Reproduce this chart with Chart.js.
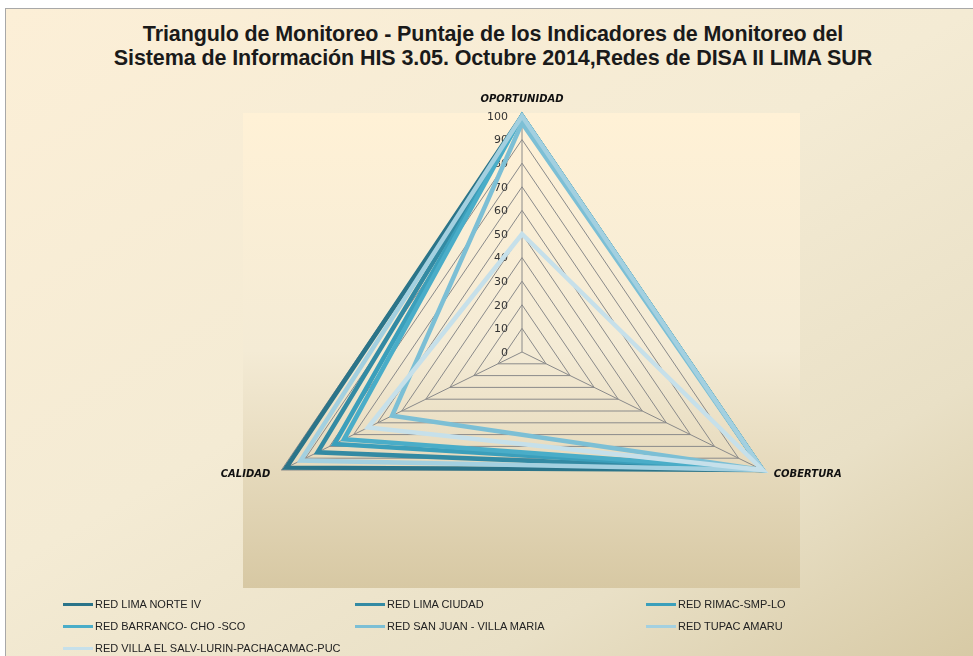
<!DOCTYPE html>
<html>
<head>
<meta charset="utf-8">
<script src="https://cdn.jsdelivr.net/npm/chart.js@4.4.1/dist/chart.umd.min.js"></script>
<style>
  html, body { margin: 0; padding: 0; background: #fff; width: 973px; height: 656px; overflow: hidden; }
  #marco {
    position: absolute; left: 5px; top: 8px; width: 990px; height: 670px;
    border-left: 1px solid #a8a8a8; border-top: 1px solid #a8a8a8;
    background: linear-gradient(150deg, #fcefd7 0%, #f4ebd4 45%, #e9e0c6 75%, #d5c7a1 100%);
  }
  #titulo {
    position: absolute; left: 5px; top: 22px; width: 976px; text-align: center;
    font-family: "Liberation Sans", Arial, sans-serif; font-weight: bold; font-size: 21.5px;
    line-height: 24px; color: #1a1a1a; letter-spacing: -0.1px;
  }
  #grafico { position: absolute; left: 0; top: 0; }
  #leyenda {
    position: absolute; left: 63px; top: 597px; width: 880px;
    display: grid; grid-template-columns: 292px 291px 290px; row-gap: 8px;
    font-family: "Liberation Sans", Arial, sans-serif; font-size: 11px; color: #222;
  }
  #leyenda div { display: flex; align-items: center; height: 14px; white-space: nowrap; }
  #leyenda span.linea { display: inline-block; width: 30px; height: 3px; margin-right: 2px; }
</style>
</head>
<body>
<div id="marco"></div>
<div id="titulo">Triangulo de Monitoreo - Puntaje de los Indicadores de Monitoreo del<br>Sistema de Información HIS 3.05. Octubre 2014,Redes de DISA II LIMA SUR</div>
<canvas id="grafico" width="973" height="656" style="width:973px;height:656px"></canvas>
<div id="leyenda"></div>
<script>
// ejes del triangulo
const indicadores = ['OPORTUNIDAD', 'COBERTURA', 'CALIDAD'];

// redes de salud
const redes = [
  'RED LIMA NORTE IV',
  'RED LIMA CIUDAD',
  'RED RIMAC-SMP-LO',
  'RED BARRANCO- CHO -SCO',
  'RED SAN JUAN  - VILLA MARIA',
  'RED TUPAC AMARU',
  'RED VILLA EL SALV-LURIN-PACHACAMAC-PUC'
];

// puntaje por indicador (una posicion por red)
const oportunidad = [100, 100, 100, 100, 97, 100, 50];
const cobertura   = [100, 100, 100, 100, 100, 100, 100];
const calidad     = [98, 85, 78, 74, 54, 92, 64];

const colores = ['#2b7489', '#338aa3', '#3b9fbb', '#4aadc8', '#7cbfd5', '#a3d0e0', '#c6e0ea'];

// el grafico original esta estirado en horizontal
const estiramiento = 1.177;

class EscalaTriangulo extends Chart.RadialLinearScale {
  static id = 'triangulo';

  getPointPosition(index, distance, angle) {
    const p = super.getPointPosition(index, distance, angle);
    return { x: this.xCenter + (p.x - this.xCenter) * estiramiento, y: p.y, angle: p.angle };
  }

  // el centro y el radio salen del area del grafico
  setCenterPoint() {}

  fit() {
    super.fit();
    (this._pointLabelItems || []).forEach((it, i) => {
      if (i > 0) { it.y -= 7; it.top -= 7; it.bottom -= 7; }
    });
  }

  drawLabels() {
    const ctx = this.ctx;
    const t = this.options.ticks;
    ctx.save();
    ctx.font = `${t.font.size}px ${t.font.family}`;
    ctx.fillStyle = t.color;
    ctx.textAlign = 'right';
    ctx.textBaseline = 'middle';
    this.ticks.forEach(tick => {
      const d = this.getDistanceFromCenterForValue(tick.value);
      ctx.fillText(tick.label, this.xCenter - 14, this.yCenter - d + 1);
    });
    ctx.restore();
  }
}
Chart.register(EscalaTriangulo);

const fondoPlot = {
  id: 'fondoPlot',
  beforeDraw(chart) {
    const s = chart.scales.r;
    const ctx = chart.ctx;
    const x0 = s.xCenter - 279, y0 = s.yCenter - 239, w = 557, h = 475;
    const g = ctx.createLinearGradient(0, y0, 0, y0 + h);
    g.addColorStop(0, '#fff1d6');
    g.addColorStop(0.5, '#f4ebd5');
    g.addColorStop(1, '#d7c8a3');
    ctx.save();
    ctx.fillStyle = g;
    ctx.fillRect(x0, y0, w, h);
    ctx.restore();
  }
};

const datasets = redes.map((nombre, i) => ({
  label: nombre,
  data: [oportunidad[i], cobertura[i], calidad[i]],
  borderColor: colores[i],
  backgroundColor: colores[i],
  borderWidth: 4.5,
  borderJoinStyle: 'miter',
  fill: false,
  pointRadius: 0,
  order: redes.length - i
}));

const grafico = new Chart(document.getElementById('grafico'), {
  type: 'radar',
  data: { labels: indicadores, datasets: datasets },
  options: {
    responsive: false,
    animation: false,
    layout: { padding: { left: 222, right: 151, top: 109, bottom: 60 } },
    plugins: { legend: { display: false }, title: { display: false }, tooltip: { enabled: false } },
    elements: { line: { tension: 0 } },
    scales: {
      r: {
        type: 'triangulo',
        min: 0,
        max: 100,
        ticks: {
          stepSize: 10,
          color: '#333',
          font: { size: 11, family: '"DejaVu Sans"' },
          backdropPadding: 2
        },
        grid: { color: '#8a8a8a', lineWidth: 1 },
        angleLines: { color: '#8a8a8a', lineWidth: 1 },
        pointLabels: {
          padding: 3.5,
          color: '#111',
          font: { size: 10, family: '"DejaVu Sans"', weight: 'bold', style: 'italic' }
        }
      }
    }
  },
  plugins: [fondoPlot]
});

// leyenda en tres columnas
const leyenda = document.getElementById('leyenda');
grafico.data.datasets.forEach(ds => {
  const item = document.createElement('div');
  const linea = document.createElement('span');
  linea.className = 'linea';
  linea.style.background = ds.borderColor;
  item.appendChild(linea);
  item.appendChild(document.createTextNode(ds.label));
  leyenda.appendChild(item);
});
</script>
</body>
</html>
